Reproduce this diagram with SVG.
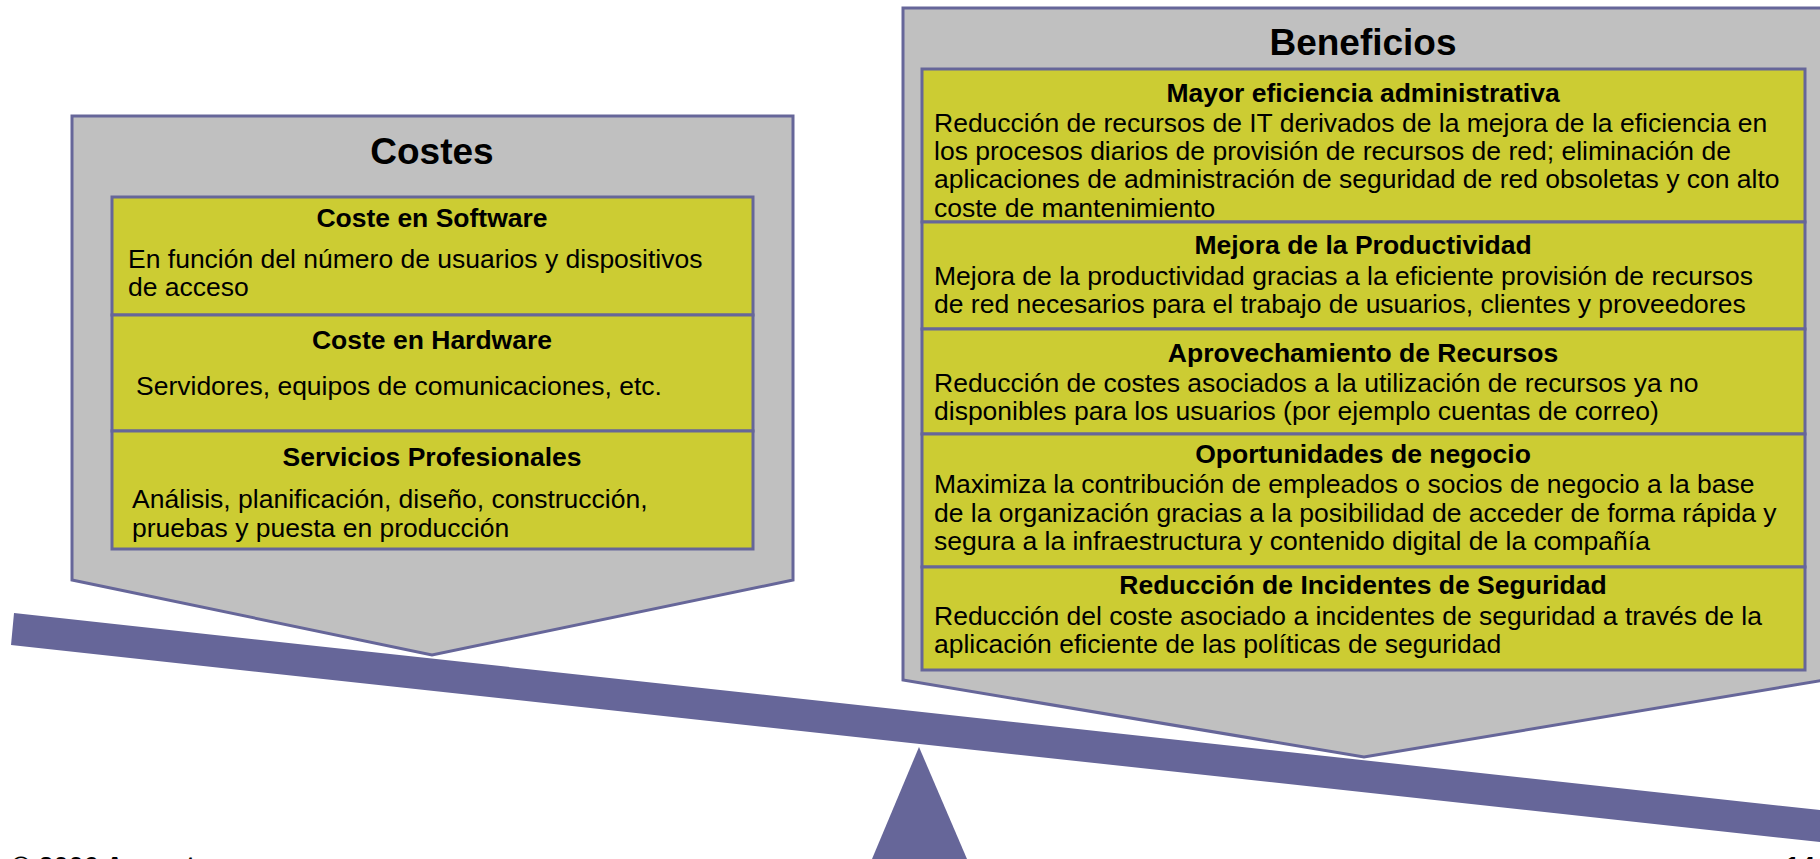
<svg xmlns="http://www.w3.org/2000/svg" width="1820" height="859" viewBox="0 0 1820 859">
<defs>
<style>
.beam{fill:#666699;}
.outer{fill:#C0C0C0;stroke:#666699;stroke-width:3;stroke-linejoin:miter;}
.row{fill:#CCCC33;stroke:#666699;stroke-width:3;}
text{font-family:"Liberation Sans",Arial,sans-serif;fill:#000;}
.title{font-size:37px;font-weight:bold;text-anchor:middle;}
.head{font-size:26.5px;font-weight:bold;text-anchor:middle;}
.body{font-size:26.5px;}
.foot{font-size:27px;font-weight:bold;}
</style>
</defs>
<rect width="1820" height="859" fill="#FFFFFF"/>
<g id="connectors">
<polygon id="beam" class="beam" points="14,613 1820,810 1820,842 11,645"/>
<polygon id="fulcrum" class="beam" points="919,747 967,859 872,859"/>
</g>
<g id="costes">
<polygon class="outer" points="72,116 793,116 793,580 432,655 72,580"/>
<text class="title" x="432" y="164">Costes</text>
<g id="coste-software">
<rect class="row" x="112" y="197" width="641" height="118"/>
<text class="head" x="432" y="227">Coste en Software</text>
<text class="body" x="128" y="268">En función del número de usuarios y dispositivos</text>
<text class="body" x="128" y="296">de acceso</text>
</g>
<g id="coste-hardware">
<rect class="row" x="112" y="315" width="641" height="116"/>
<text class="head" x="432" y="349">Coste en Hardware</text>
<text class="body" x="136" y="395">Servidores, equipos de comunicaciones, etc.</text>
</g>
<g id="servicios">
<rect class="row" x="112" y="431" width="641" height="118"/>
<text class="head" x="432" y="466">Servicios Profesionales</text>
<text class="body" x="132" y="508">Análisis, planificación, diseño, construcción,</text>
<text class="body" x="132" y="537">pruebas y puesta en producción</text>
</g>
</g>
<g id="beneficios">
<polygon class="outer" points="903,8 1825,8 1825,680 1364,757 903,680"/>
<text class="title" x="1363" y="55">Beneficios</text>
<g id="eficiencia">
<rect class="row" x="922" y="69" width="883" height="153"/>
<text class="head" x="1363" y="102">Mayor eficiencia administrativa</text>
<text class="body" x="934" y="132">Reducción de recursos de IT derivados de la mejora de la eficiencia en</text>
<text class="body" x="934" y="160">los procesos diarios de provisión de recursos de red; eliminación de</text>
<text class="body" x="934" y="188">aplicaciones de administración de seguridad de red obsoletas y con alto</text>
<text class="body" x="934" y="217">coste de mantenimiento</text>
</g>
<g id="productividad">
<rect class="row" x="922" y="222" width="883" height="107"/>
<text class="head" x="1363" y="254">Mejora de la Productividad</text>
<text class="body" x="934" y="285">Mejora de la productividad gracias a la eficiente provisión de recursos</text>
<text class="body" x="934" y="313">de red necesarios para el trabajo de usuarios, clientes y proveedores</text>
</g>
<g id="aprovechamiento">
<rect class="row" x="922" y="329" width="883" height="105"/>
<text class="head" x="1363" y="362">Aprovechamiento de Recursos</text>
<text class="body" x="934" y="392">Reducción de costes asociados a la utilización de recursos ya no</text>
<text class="body" x="934" y="420">disponibles para los usuarios (por ejemplo cuentas de correo)</text>
</g>
<g id="oportunidades">
<rect class="row" x="922" y="434" width="883" height="133"/>
<text class="head" x="1363" y="463">Oportunidades de negocio</text>
<text class="body" x="934" y="493">Maximiza la contribución de empleados o socios de negocio a la base</text>
<text class="body" x="934" y="522">de la organización gracias a la posibilidad de acceder de forma rápida y</text>
<text class="body" x="934" y="550">segura a la infraestructura y contenido digital de la compañía</text>
</g>
<g id="incidentes">
<rect class="row" x="922" y="567" width="883" height="103"/>
<text class="head" x="1363" y="594">Reducción de Incidentes de Seguridad</text>
<text class="body" x="934" y="625">Reducción del coste asociado a incidentes de seguridad a través de la</text>
<text class="body" x="934" y="653">aplicación eficiente de las políticas de seguridad</text>
</g>
</g>
<g id="footer">
<text class="foot" x="11" y="876">© 2006 Accenture</text>
<text class="foot" x="1815" y="876" text-anchor="end">14</text>
</g>
</svg>
